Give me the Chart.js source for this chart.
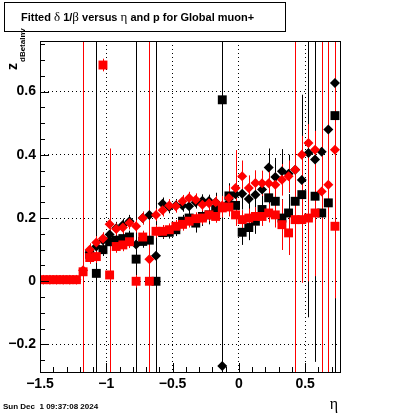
<!DOCTYPE html>
<html>
<head>
<meta charset="utf-8">
<script src="https://cdn.jsdelivr.net/npm/chart.js@4.4.0/dist/chart.umd.min.js"></script>
<style>
  html, body { margin: 0; padding: 0; background: #fff; }
  #wrap { width: 400px; height: 414px; }
</style>
</head>
<body>
<div id="wrap"><canvas id="c" width="400" height="414"></canvas></div>
<script>
// eta bin centres
const eta = [-1.475, -1.425, -1.375, -1.325, -1.275, -1.225, -1.175, -1.125, -1.075, -1.025,
  -0.975, -0.925, -0.875, -0.825, -0.775, -0.725, -0.675, -0.625, -0.575, -0.525,
  -0.475, -0.425, -0.375, -0.325, -0.275, -0.225, -0.175, -0.125, -0.075, -0.025,
  0.025, 0.075, 0.125, 0.175, 0.225, 0.275, 0.325, 0.375, 0.425, 0.475,
  0.525, 0.575, 0.625, 0.675, 0.725];

// black diamonds
const blackDiamond = [null, null, null, null, null, null, null, 0.09, 0.11, 0.13,
  0.148, 0.168, 0.178, 0.19, 0.116, 0.2, 0.21, 0.081, 0.245, 0.235,
  0.24, 0.24, 0.237, 0.25, 0.255, 0.254, 0.25, -0.268, 0.25, 0.275,
  0.277, 0.26, 0.274, 0.29, 0.36, 0.33, 0.348, 0.34, 0.353, 0.32,
  0.406, 0.385, 0.41, 0.48, 0.627];
const blackDiamondErr = [0, 0, 0, 0, 0, 0, 0, 0.02, 0.02, 0.02,
  0.02, 0.02, 0.02, 0.02, 0.02, 0.02, 0.02, 0.03, 0.02, 0.02,
  0.02, 0.02, 0.02, 0.02, 0.02, 0.02, 0.03, 0.03, 0.04, 0.05,
  0.05, 0.05, 0.06, 0.05, 0.06, 0.06, 0.07, 0.06, 0.07, 0.27,
  0.52, 0.64, 0.08, 0.1, 2];

// black squares
const blackSquare = [null, null, null, null, null, null, null, 0.085, 0.025, 0.1,
  0.125, 0.13, 0.135, 0.14, 0.07, 0.126, 0.13, 0.0, 0.154, 0.155,
  0.163, 0.19, 0.2, 0.184, 0.205, 0.21, 0.227, 0.574, 0.27, 0.24,
  0.155, 0.17, 0.19, 0.227, 0.264, 0.253, 0.2, 0.216, 0.253, 0.274,
  null, 0.269, 0.216, 0.248, 0.524];
const blackSquareErr = [0, 0, 0, 0, 0, 0, 0, 0.02, 2, 0.02,
  0.02, 0.02, 0.02, 0.02, 2, 0.02, 0.02, 2, 0.02, 0.02,
  0.02, 0.02, 0.02, 0.03, 0.03, 0.03, 0.03, 2, 0.04, 0.04,
  0.04, 0.04, 0.04, 0.05, 0.05, 0.05, 0.06, 0.06, 0.06, 0.07,
  0, 0.08, 0.08, 0.08, 0.1];

// red diamonds
const redDiamond = [0.005, 0.005, 0.005, 0.005, 0.005, 0.005, 0.035, 0.1, 0.123, 0.135,
  0.18, 0.165, 0.17, 0.184, 0.174, 0.2, 0.07, 0.21, 0.225, 0.24,
  0.237, 0.253, 0.263, 0.258, 0.242, 0.247, 0.25, 0.24, 0.263, 0.295,
  0.332, 0.295, 0.311, 0.31, 0.31, 0.305, 0.321, 0.332, 0.353, 0.4,
  0.437, 0.416, 0.284, 0.305, 0.416];
const redDiamondErr = [0.005, 0.005, 0.005, 0.005, 0.005, 0.005, 2, 0.02, 0.02, 0.02,
  0.02, 0.02, 0.02, 0.02, 0.02, 0.02, 2, 0.02, 0.02, 0.02,
  0.02, 0.02, 0.02, 0.02, 0.02, 0.02, 0.02, 0.03, 0.04, 0.12,
  0.05, 0.04, 0.04, 0.04, 0.04, 0.04, 0.05, 0.05, 2, 0.06,
  0.06, 0.06, 2, 2, 0.47];

// red squares
const redSquare = [0.005, 0.005, 0.005, 0.005, 0.005, 0.005, 0.03, 0.075, 0.078, 0.684,
  0.02, 0.11, 0.115, 0.125, 0.0, 0.14, 0.0, 0.158, 0.158, 0.163,
  0.174, 0.18, 0.19, 0.198, 0.2, 0.21, 0.205, 0.232, 0.235, 0.21,
  0.195, 0.2, 0.205, 0.205, 0.216, 0.21, 0.179, 0.153, 0.195, 0.195,
  0.2, 0.216, null, null, 0.174];
const redSquareErr = [0.005, 0.005, 0.005, 0.005, 0.005, 0.005, 0.02, 0.02, 0.02, 0.02,
  0.4, 0.02, 0.02, 0.02, 0.02, 0.02, 0.02, 0.02, 0.02, 0.02,
  0.02, 0.02, 0.02, 0.02, 0.02, 0.02, 0.02, 0.03, 0.03, 0.03,
  0.03, 0.03, 0.03, 0.03, 0.03, 0.04, 0.08, 0.07, 0.04, 0.2,
  0.2, 0.2, 0, 0, 0.05];

const xTicks = [-1.5, -1, -0.5, 0, 0.5];
const xTickLabels = ['\u22121.5', '\u22121', '\u22120.5', '0', '0.5'];
const yTicks = [-0.2, 0, 0.2, 0.4, 0.6];
const yTickLabels = ['\u22120.2', '0', '0.2', '0.4', '0.6'];

const titleParts = [['Fitted ', 'b'], ['\u03b4', 's'], [' 1/', 'b'], ['\u03b2', 's'],
  [' versus ', 'b'], ['\u03b7', 's'], [' and p for Global muon+', 'b']];

function points(vals, errs) {
  const out = [];
  vals.forEach((v, i) => {
    if (v === null) return;
    out.push({ x: eta[i], y: v, err: errs[i] });
  });
  return out;
}

function makeSet(label, vals, errs, color, style, radius, order) {
  return {
    label,
    data: points(vals, errs),
    backgroundColor: color,
    borderColor: color,
    borderWidth: 0,
    pointStyle: style,
    pointRadius: radius,
    pointHoverRadius: radius,
    showLine: false,
    order
  };
}

const SANS = '"Liberation Sans", Arial, sans-serif';
const SERIF = '"Liberation Serif", "DejaVu Serif", serif';

const errorBars = {
  id: 'errorBars',
  beforeDatasetsDraw(chart) {
    const { ctx, chartArea: a, scales: { y } } = chart;
    ctx.save();
    ctx.beginPath();
    ctx.rect(a.left, a.top, a.right - a.left, a.bottom - a.top);
    ctx.clip();
    ctx.lineWidth = 1;
    chart.data.datasets.forEach((ds, i) => {
      const meta = chart.getDatasetMeta(i);
      ctx.strokeStyle = ds.borderColor;
      meta.data.forEach((pt, j) => {
        const d = ds.data[j];
        if (!d.err) return;
        const px = Math.round(pt.x) + 0.5;
        ctx.beginPath();
        ctx.moveTo(px, y.getPixelForValue(d.y + d.err));
        ctx.lineTo(px, y.getPixelForValue(d.y - d.err));
        ctx.stroke();
      });
    });
    ctx.restore();
  }
};

const frame = {
  id: 'frame',
  afterDraw(chart) {
    const { ctx, chartArea: a, scales: { x, y } } = chart;
    ctx.save();
    ctx.strokeStyle = '#000';
    ctx.lineWidth = 1;
    ctx.strokeRect(Math.round(a.left) + 0.5, Math.round(a.top) + 0.5,
      Math.round(a.right - a.left), Math.round(a.bottom - a.top));

    // ticks, drawn inward like ROOT
    ctx.beginPath();
    for (let v = -1.5; v <= x.max + 1e-9; v += 0.1) {
      const px = Math.round(x.getPixelForValue(v)) + 0.5;
      const major = Math.abs(v * 2 - Math.round(v * 2)) < 1e-6;
      ctx.moveTo(px, a.bottom);
      ctx.lineTo(px, a.bottom - (major ? 9 : 5));
    }
    for (let v = -0.25; v <= y.max + 1e-9; v += 0.05) {
      const py = Math.round(y.getPixelForValue(v)) + 0.5;
      const major = Math.abs(v * 5 - Math.round(v * 5)) < 1e-6;
      ctx.moveTo(a.left, py);
      ctx.lineTo(a.left + (major ? 9 : 5), py);
    }
    ctx.stroke();

    // title box
    ctx.fillStyle = '#fff';
    ctx.fillRect(4, 2, 281, 29);
    ctx.strokeRect(4.5, 2.5, 281, 29);
    ctx.fillStyle = '#000';
    ctx.textBaseline = 'alphabetic';
    ctx.textAlign = 'left';
    let tx = 21;
    titleParts.forEach(([s, f]) => {
      ctx.font = f === 'b' ? 'bold 11px ' + SANS : '13px ' + SERIF;
      ctx.fillText(s, tx, 21);
      tx += ctx.measureText(s).width;
    });

    // y axis title
    ctx.save();
    ctx.translate(17, 70);
    ctx.rotate(-Math.PI / 2);
    ctx.font = 'bold 14px ' + SANS;
    ctx.fillText('z', 0, 0);
    const zw = ctx.measureText('z').width;
    ctx.font = 'bold 8px ' + SANS;
    ctx.fillText('dBetaInv', zw + 1, 8);
    ctx.restore();

    // x axis title
    ctx.font = '16px ' + SERIF;
    ctx.textAlign = 'center';
    ctx.fillText('\u03b7', 334, 409);

    // date stamp
    ctx.font = 'bold 8px ' + SANS;
    ctx.textAlign = 'left';
    ctx.fillText('Sun Dec  1 09:37:08 2024', 3, 409);
    ctx.restore();
  }
};

new Chart(document.getElementById('c'), {
  type: 'scatter',
  data: {
    datasets: [
      makeSet('black diamond', blackDiamond, blackDiamondErr, '#000', 'rectRot', 5, 4),
      makeSet('black square', blackSquare, blackSquareErr, '#000', 'rect', 6.3, 3),
      makeSet('red diamond', redDiamond, redDiamondErr, '#ff0000', 'rectRot', 5, 2),
      makeSet('red square', redSquare, redSquareErr, '#ff0000', 'rect', 6.3, 1)
    ]
  },
  options: {
    responsive: false,
    animation: false,
    events: [],
    layout: { padding: { top: 41, right: 60, bottom: 0, left: 0 } },
    plugins: { legend: { display: false }, tooltip: { enabled: false }, title: { display: false } },
    scales: {
      x: {
        type: 'linear',
        min: -1.5,
        max: 0.763,
        afterBuildTicks: s => { s.ticks = xTicks.map(v => ({ value: v })); },
        afterFit: s => { s.height = 42; },
        grid: { color: '#000', lineWidth: 1, drawTicks: false },
        border: { display: false, dash: [1, 3] },
        ticks: {
          autoSkip: false, maxRotation: 0, minRotation: 0, padding: 4,
          color: '#000', font: { family: SANS, size: 14, weight: 'bold' },
          callback: (v, i) => xTickLabels[i]
        }
      },
      y: {
        type: 'linear',
        min: -0.287,
        max: 0.76,
        afterBuildTicks: s => { s.ticks = yTicks.map(v => ({ value: v })); },
        afterFit: s => { s.width = 40; },
        grid: { color: '#000', lineWidth: 1, drawTicks: false },
        border: { display: false, dash: [1, 3] },
        ticks: {
          autoSkip: false, padding: 4,
          color: '#000', font: { family: SANS, size: 14, weight: 'bold' },
          callback: (v, i) => yTickLabels[i]
        }
      }
    }
  },
  plugins: [errorBars, frame]
});
</script>
</body>
</html>
